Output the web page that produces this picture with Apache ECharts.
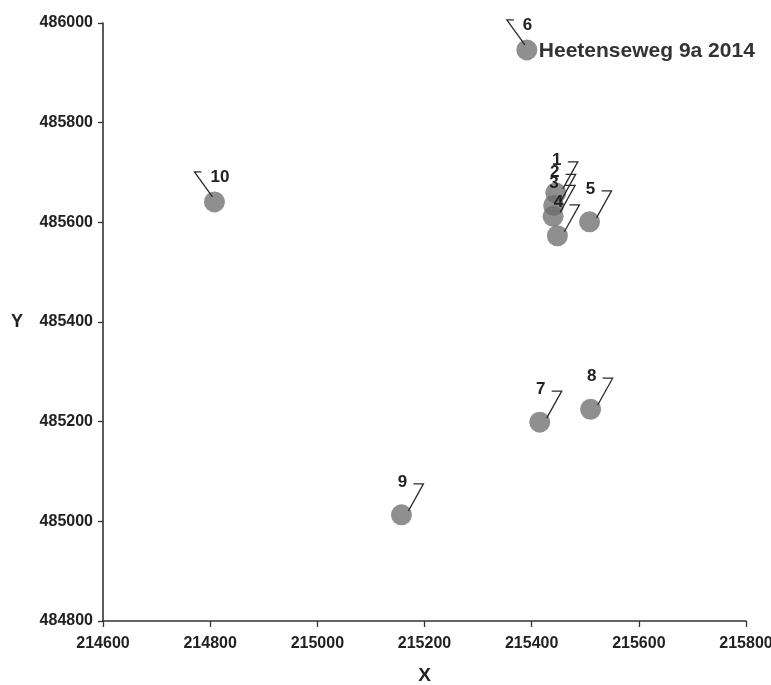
<!DOCTYPE html>
<html>
<head>
<meta charset="utf-8">
<script src="https://cdn.jsdelivr.net/npm/echarts@6/dist/echarts.min.js"></script>
<style>html,body{margin:0;padding:0;background:#fff;overflow:hidden}#c{width:771px;height:685px}</style>
</head>
<body>
<div id="c"></div>
<script>
// ---- data ----
const pointIds = ['1', '2', '3', '4', '5', '6', '7', '8', '9', '10'];
const xValues = [215445, 215441, 215440, 215448, 215508, 215391, 215415, 215510, 215157, 214808];
const yValues = [485659, 485634, 485612, 485573, 485601, 485946, 485199, 485225, 485013, 485641];
const pointNotes = ['', '', '', '', '', 'Heetenseweg 9a 2014', '', '', '', ''];
const xTicks = [214600, 214800, 215000, 215200, 215400, 215600, 215800];
const yTicks = [484800, 485000, 485200, 485400, 485600, 485800, 486000];
const xAxisName = 'X';
const yAxisName = 'Y';
// leader lines point up-left for these ids
const leftLeaderIds = ['6', '10'];

const seriesData = pointIds.map((id, i) => [xValues[i], yValues[i], id, pointNotes[i]]);

const FONT = '"Liberation Sans", Arial, sans-serif';
const chart = echarts.init(document.getElementById('c'));

function renderItem(params, api) {
  const i = params.dataIndex;
  const p = api.coord([api.value(0), api.value(1)]);
  const cx = p[0], cy = p[1];
  const id = pointIds[i];
  const left = leftLeaderIds.indexOf(id) >= 0;
  const children = [{
    type: 'circle', shape: { cx: cx, cy: cy, r: 10.5 },
    style: { fill: '#6a6a6a', opacity: 0.75 }, z2: 1
  }];
  let pts, tx, ty;
  if (!left) {
    pts = [[cx + 12, cy - 31], [cx + 22, cy - 31], [cx + 7, cy - 4]];
    tx = cx + 1; ty = cy - 33;
  } else {
    pts = [[cx - 13, cy - 30], [cx - 20, cy - 30], [cx - 2, cy - 5]];
    tx = cx - 4; ty = cy - 25;
  }
  children.push({
    type: 'polyline', shape: { points: pts },
    style: { stroke: '#2a2a2a', lineWidth: 1.3, fill: null }, z2: 2
  });
  children.push({
    type: 'text', z2: 3,
    style: { text: id, x: tx, y: ty, align: left ? 'left' : 'center', verticalAlign: 'middle',
      fill: '#222', font: 'bold 17px ' + FONT }
  });
  const note = pointNotes[i];
  if (note) {
    children.push({
      type: 'text', z2: 3,
      style: { text: note, x: cx + 12, y: cy + 1, align: 'left', verticalAlign: 'middle',
        fill: '#333', font: 'bold 21px ' + FONT }
    });
  }
  return { type: 'group', children: children };
}

const plainNum = v => String(v);

chart.setOption({
  animation: false,
  backgroundColor: '#fff',
  grid: { left: 103, right: 25, top: 23, bottom: 64, containLabel: false, outerBoundsMode: 'none' },
  xAxis: {
    type: 'value', min: xTicks[0], max: xTicks[xTicks.length - 1], interval: 200,
    name: xAxisName, nameLocation: 'middle', nameGap: 45,
    nameTextStyle: { fontSize: 19, fontWeight: 'bold', color: '#222', fontFamily: FONT },
    axisLine: { show: true, lineStyle: { color: '#333', width: 1.6 } },
    axisTick: { show: true, length: 6, lineStyle: { color: '#333', width: 1.3 } },
    splitLine: { show: false },
    axisLabel: { margin: 15, fontSize: 16, fontWeight: 'bold', color: '#222', fontFamily: FONT, formatter: plainNum }
  },
  yAxis: {
    type: 'value', min: yTicks[0], max: yTicks[yTicks.length - 1], interval: 200,
    name: yAxisName, nameLocation: 'middle', nameGap: 80, nameRotate: 0,
    nameTextStyle: { fontSize: 18, fontWeight: 'bold', color: '#222', fontFamily: FONT },
    axisLine: { show: true, lineStyle: { color: '#333', width: 1.6 } },
    axisTick: { show: true, length: 5, lineStyle: { color: '#333', width: 1.3 } },
    splitLine: { show: false },
    axisLabel: { margin: 10, fontSize: 16, fontWeight: 'bold', color: '#222', fontFamily: FONT, formatter: plainNum }
  },
  series: [{
    type: 'custom',
    renderItem: renderItem,
    encode: { x: 0, y: 1 },
    data: seriesData,
    clip: false
  }]
});
</script>
</body>
</html>
